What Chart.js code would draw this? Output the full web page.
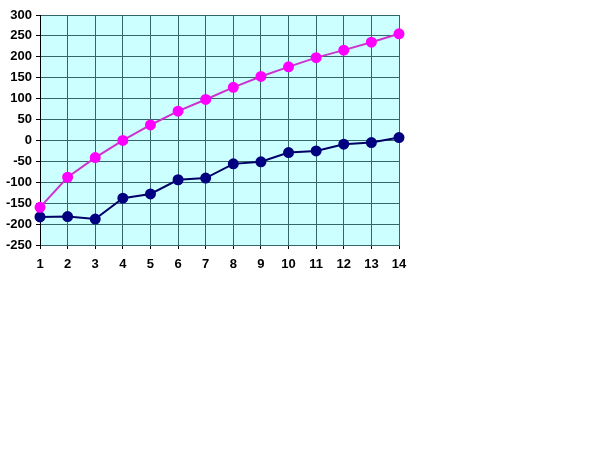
<!DOCTYPE html>
<html><head><meta charset="utf-8">
<script src="https://cdn.jsdelivr.net/npm/chart.js@4/dist/chart.umd.min.js"></script>
<style>html,body{margin:0;padding:0;background:#fff}#w{width:590px;height:472px}</style>
</head><body><div id="w"><canvas id="c" width="590" height="472"></canvas></div>
<script>
const categories = ["1","2","3","4","5","6","7","8","9","10","11","12","13","14"];
const seriesMagenta = [-160,-88,-41,0,37,70,98,127,153,176,198,216,235,255];
const seriesNavy = [-183,-182,-188,-138,-128,-94,-90,-56,-51,-29,-25,-9,-5,7];
const yMin = -250, yMax = 300, yStep = 50;

const bgPlugin = {
  id:'bg',
  beforeDraw(chart){
    const a = chart.chartArea, ctx = chart.ctx;
    ctx.save(); ctx.fillStyle = '#ccffff';
    ctx.fillRect(a.left, a.top, a.right-a.left, a.bottom-a.top);
    ctx.restore();
  }
};

new Chart(document.getElementById('c'), {
  type:'line',
  data:{labels:categories, datasets:[
    {data:seriesMagenta, borderColor:'#cc33cc', backgroundColor:'#ff00ff', pointBackgroundColor:'#ff00ff', pointBorderColor:'#ff00ff', borderWidth:2, pointRadius:4.5, tension:0},
    {data:seriesNavy, borderColor:'#000066', backgroundColor:'#000080', pointBackgroundColor:'#000080', pointBorderColor:'#000080', borderWidth:2, pointRadius:4.5, tension:0}
  ]},
  options:{
    responsive:false, animation:false, devicePixelRatio:1,
    layout:{padding:{left:0, top:15, right:191, bottom:202}},
    plugins:{legend:{display:false}, tooltip:{enabled:false}},
    scales:{
      x:{offset:false,
        grid:{color:'#336666', lineWidth:1, tickLength:4, tickColor:'#000'},
        border:{color:'#336666'},
        ticks:{color:'#000', font:{family:'Liberation Sans, Arial', size:13, weight:'bold'}, padding:8, maxRotation:0, autoSkip:false},
        afterFit(s){ s.height = 25; }
      },
      y:{min:yMin, max:yMax,
        grid:{color:'#336666', lineWidth:1, tickLength:4, tickColor:'#000'},
        border:{color:'#000'},
        ticks:{stepSize:yStep, color:'#000', font:{family:'Liberation Sans, Arial', size:13, weight:'bold'}, padding:4},
        afterFit(s){ s.width = 40; }
      }
    }
  },
  plugins:[bgPlugin]
});
</script></body></html>
